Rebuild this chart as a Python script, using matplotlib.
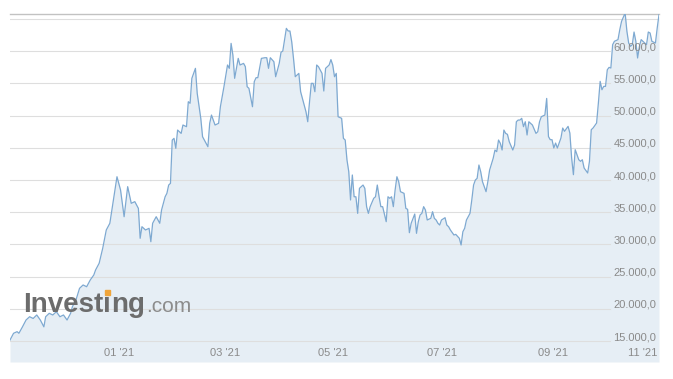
import matplotlib
matplotlib.use('Agg')
import matplotlib.pyplot as plt
from matplotlib.patches import Rectangle
import pandas as pd

# ---------------- data ----------------
base_date = pd.Timestamp('2021-01-01')
day_offsets = [-53, -51, -49, -48, -46, -44, -42, -40, -38, -36, -34, -33, -31, -29, -27, -25, -23, -21, -19, -18,
               -16, -14, -12, -10, -8, -6, -5, -3, -1, 1, 3, 5, 7, 9, 11, 13, 15, 17, 19, 20,
               21, 23, 25, 26, 27, 29, 31, 32, 34, 35, 36, 37, 38, 39, 40, 41, 43, 44, 46, 47,
               48, 49, 51, 52, 54, 55, 56, 58, 59, 60, 62, 64, 65, 67, 69, 70, 71, 72, 73, 75,
               76, 78, 79, 80, 81, 83, 84, 85, 86, 88, 90, 91, 92, 93, 95, 96, 98, 99, 100, 102,
               103, 104, 105, 106, 107, 109, 110, 112, 113, 114, 115, 116, 117, 118, 119, 120, 122, 123, 124, 126,
               127, 128, 129, 130, 131, 133, 134, 135, 136, 137, 138, 139, 140, 141, 142, 143, 145, 146, 147, 148,
               149, 151, 152, 153, 154, 155, 156, 158, 159, 160, 161, 162, 163, 164, 165, 166, 168, 169, 170, 171,
               172, 174, 175, 176, 177, 178, 179, 180, 181, 183, 184, 185, 186, 187, 188, 189, 191, 192, 193, 194,
               196, 197, 199, 200, 201, 202, 203, 205, 206, 207, 208, 209, 210, 211, 212, 214, 215, 216, 218, 219,
               220, 221, 222, 223, 224, 225, 226, 227, 229, 230, 231, 232, 233, 234, 235, 236, 237, 238, 239, 240,
               242, 243, 244, 245, 247, 248, 249, 250, 251, 252, 253, 254, 256, 257, 258, 260, 261, 262, 263, 264,
               266, 267, 268, 269, 271, 272, 273, 274, 276, 277, 278, 279, 280, 281, 282, 283, 284, 285, 286, 288,
               289, 290, 292, 293, 294, 295, 296, 297, 298, 299, 300, 301, 302, 304, 305, 306, 307, 309, 310, 311]
close_usd = [15150, 16200, 16450, 16200, 17200, 18260, 18770, 18500, 19040, 18260, 17200, 18770, 19300, 19040, 19550, 18770, 19040, 18260, 19300, 20330,
             21370, 23180, 23700, 23430, 24470, 25250, 26030, 27070, 29400, 32240, 33280, 36900, 40510, 38450, 34300, 38970, 36380, 36640, 35600, 30950,
             32750, 32240, 32500, 30420, 33280, 34300, 33280, 35340, 37400, 37930, 39220, 39480, 46210, 46470, 44920, 47760, 47240, 48540, 48280, 52160,
             51910, 55790, 57340, 53460, 49580, 46720, 46210, 45170, 48800, 50090, 48540, 48800, 51380, 54490, 57860, 57340, 61220, 59410, 55790, 58890,
             57860, 58110, 57600, 54490, 54240, 51380, 55270, 55890, 55890, 58890, 58990, 58990, 57340, 58990, 58370, 56040, 58110, 59830, 60030, 63550,
             63140, 63140, 61480, 58890, 56040, 56560, 53710, 51640, 50600, 49050, 52160, 55010, 55010, 53710, 57860, 57600, 56560, 53820, 57340, 57860,
             58700, 57860, 56040, 56560, 49830, 49580, 46470, 46210, 43110, 41300, 36900, 40780, 37400, 37400, 34820, 38710, 39220, 38710, 35860, 34820,
             35860, 37160, 37400, 39220, 37400, 35860, 35860, 33530, 37400, 37160, 37400, 35860, 38450, 40510, 39740, 38190, 37930, 35600, 35450, 31820,
             33280, 34720, 31720, 33530, 34570, 34820, 35860, 35340, 33790, 34050, 35080, 34050, 33790, 33280, 33010, 33790, 34150, 33010, 32750, 32240,
             31460, 31560, 30950, 29910, 31970, 32500, 33790, 34820, 36900, 39220, 40000, 40260, 42330, 41290, 39740, 38190, 39740, 41550, 43370, 44660,
             44400, 46210, 45700, 44660, 47760, 47240, 47090, 45950, 44660, 45430, 49050, 49310, 49310, 49580, 48280, 49050, 46990, 49050, 48800, 48540,
             47240, 47500, 49050, 49830, 50090, 52670, 46750, 46260, 46260, 44970, 45740, 44970, 46520, 48070, 47560, 48330, 47300, 43420, 40830, 44710,
             43150, 42900, 43150, 41860, 41090, 42900, 47810, 48070, 48850, 51960, 55320, 54020, 54540, 54540, 57120, 57490, 57390, 61010, 61540, 61800,
             63340, 64640, 65930, 63090, 61270, 60760, 61010, 62980, 61540, 58950, 60760, 61800, 61540, 61010, 62980, 62830, 61540, 61270, 63610, 65670]

y_tick_values = [15000, 20000, 25000, 30000, 35000, 40000, 45000, 50000, 55000, 60000]
unlabeled_grid = [65000]
x_tick_dates = ['2021-01-01', '2021-03-01', '2021-05-01', '2021-07-01', '2021-09-01', '2021-11-01']
x_tick_labels = ["01 '21", "03 '21", "05 '21", "07 '21", "09 '21", "11 '21"]

# ---------------- style ----------------
W, H = 673, 379
LINE = '#7ea9d1'
FILL = '#e6eef5'
GRID = '#dedede'
TXT = '#8a8a8a'
FONT = 'Liberation Sans'
y_lo, y_hi = 11740, 65780

def fmt(v):
    s = f"{v:,.1f}"
    return s.replace(',', 'X').replace('.', ',').replace('X', '.')

dates = base_date + pd.to_timedelta(day_offsets, unit='D')

fig = plt.figure(figsize=(W / 100, H / 100), dpi=100, facecolor='white')
ax = fig.add_axes([10 / W, 17 / H, 649 / W, 348 / H])
ax.set_facecolor('white')

ax.fill_between(dates, close_usd, y_lo, color=FILL, lw=0, zorder=1)
ax.plot(dates, close_usd, color=LINE, lw=0.9, zorder=3)

for v in y_tick_values:
    ax.axhline(v, xmin=0, xmax=0.925, color=GRID, lw=0.8, zorder=2)
    ax.annotate(fmt(v), xy=(1, v), xycoords=('axes fraction', 'data'),
                xytext=(-3, 1), textcoords='offset pixels', ha='right', va='baseline',
                fontsize=8, color=TXT, family=FONT, zorder=5)
for v in unlabeled_grid:
    ax.axhline(v, color=GRID, lw=0.8, zorder=2)

for d, lab in zip(x_tick_dates, x_tick_labels):
    dt = pd.Timestamp(d)
    if dt == pd.Timestamp(x_tick_dates[-1]):
        ax.text(0.997, 0.026, lab, transform=ax.transAxes, ha='right', va='center',
                fontsize=8, color=TXT, family=FONT, zorder=5)
    else:
        ax.annotate(lab, xy=(dt, 0.026), xycoords=('data', 'axes fraction'),
                    ha='left', va='center', fontsize=8, color=TXT, family=FONT, zorder=5)

ax.set_xlim(dates[0], dates[-1])
ax.set_ylim(y_lo, y_hi)
ax.set_xticks([])
ax.set_yticks([])
for s in ['left', 'right', 'bottom']:
    ax.spines[s].set_visible(False)
ax.spines['top'].set_color('#c2c2c2')
ax.spines['top'].set_linewidth(1.0)

# ---------------- watermark ----------------
renderer = fig.canvas.get_renderer()
bx, by = 23, H - 312
logo_col = '#6c6c6c'
t1 = fig.text(bx / W, by / H, 'Invest', fontsize=20, fontweight='bold', color=logo_col,
              family=FONT, va='baseline', ha='left', zorder=10)
e1 = t1.get_window_extent(renderer)
t2 = fig.text(e1.x1 / W, by / H, '\u0131', fontsize=20, fontweight='bold', color=logo_col,
              family=FONT, va='baseline', ha='left', zorder=10)
e2 = t2.get_window_extent(renderer)
t3 = fig.text(e2.x1 / W, by / H, 'ng', fontsize=20, fontweight='bold', color=logo_col,
              family=FONT, va='baseline', ha='left', zorder=10)
e3 = t3.get_window_extent(renderer)
t4 = fig.text((e3.x1 + 1) / W, by / H, '.com', fontsize=15, color='#8c8c8c',
              family=FONT, va='baseline', ha='left', zorder=10)
cx = (e2.x0 + e2.x1) / 2
fig.patches.append(Rectangle(((cx - 2.5) / W, (H - 294.5) / H), 5 / W, 5 / H,
                             transform=fig.transFigure, color='#f0a53a', zorder=11))

fig.savefig('out.png', dpi=100, facecolor='white')
